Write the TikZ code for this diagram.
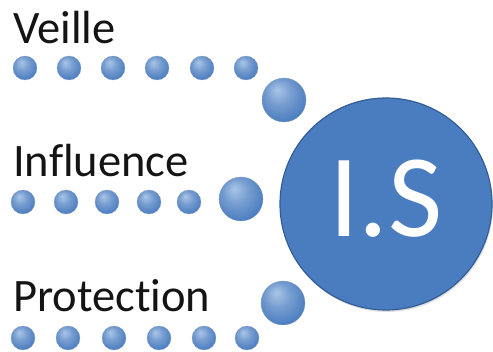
\documentclass[tikz,border=0pt]{standalone}
\usepackage{fontspec}
\setmainfont{Carlito}[Ligatures={NoCommon}]
\usetikzlibrary{shadows}
\definecolor{isblue}{RGB}{74,125,192}
\definecolor{isdark}{RGB}{52,92,150}
\definecolor{islight}{RGB}{170,198,232}
\definecolor{labelgray}{RGB}{20,20,20}
\pgfdeclareradialshading{sphereshade}{\pgfpoint{-8bp}{12bp}}{%
  color(0bp)=(islight); color(14bp)=(isblue!75!white); color(30bp)=(isblue); color(44bp)=(isdark); color(50bp)=(isdark)}
\tikzset{
  dot/.style={circle, minimum size=24pt, inner sep=0pt, draw=isdark!60, line width=0.3pt,
    shading=sphereshade},
  bigdot/.style={dot, minimum size=44pt},
  lbl/.style={anchor=base west, inner sep=0pt, text=labelgray, font=\fontsize{46.5}{46.5}\selectfont},
  core/.style={circle, minimum size=212pt, inner sep=0pt, fill=isblue, draw=isdark, line width=1.2pt,
    drop shadow={opacity=0.25, shadow xshift=1pt, shadow yshift=-2pt}},
}
\begin{document}
\begin{tikzpicture}[x=1pt, y=-1pt]
\useasboundingbox (0,0) rectangle (493,352);
% central circle
\node[core] (is) at (386,204) {};
\node[text=white, font=\fontsize{118}{118}\selectfont, anchor=base, inner sep=0pt] (istext) at (386,237) {I.S};
% Veille
\node[lbl] (veille) at (13,44) {Veille};
\foreach \x [count=\i] in {25,69,113,157,202,246} \node[dot] (v\i) at (\x,68) {};
\node[bigdot] (vb) at (284,100) {};
% Influence
\node[lbl] (influence) at (13,177) {Influence};
\foreach \x [count=\i] in {23,66,107,149,189} \node[dot] (f\i) at (\x,202) {};
\node[bigdot] (fb) at (241,199) {};
% Protection
\node[lbl] (protection) at (13,312) {Protection};
\foreach \x [count=\i] in {23,68,114,159,204,247} \node[dot] (p\i) at (\x,338) {};
\node[bigdot] (pb) at (283,303) {};
\end{tikzpicture}
\end{document}
